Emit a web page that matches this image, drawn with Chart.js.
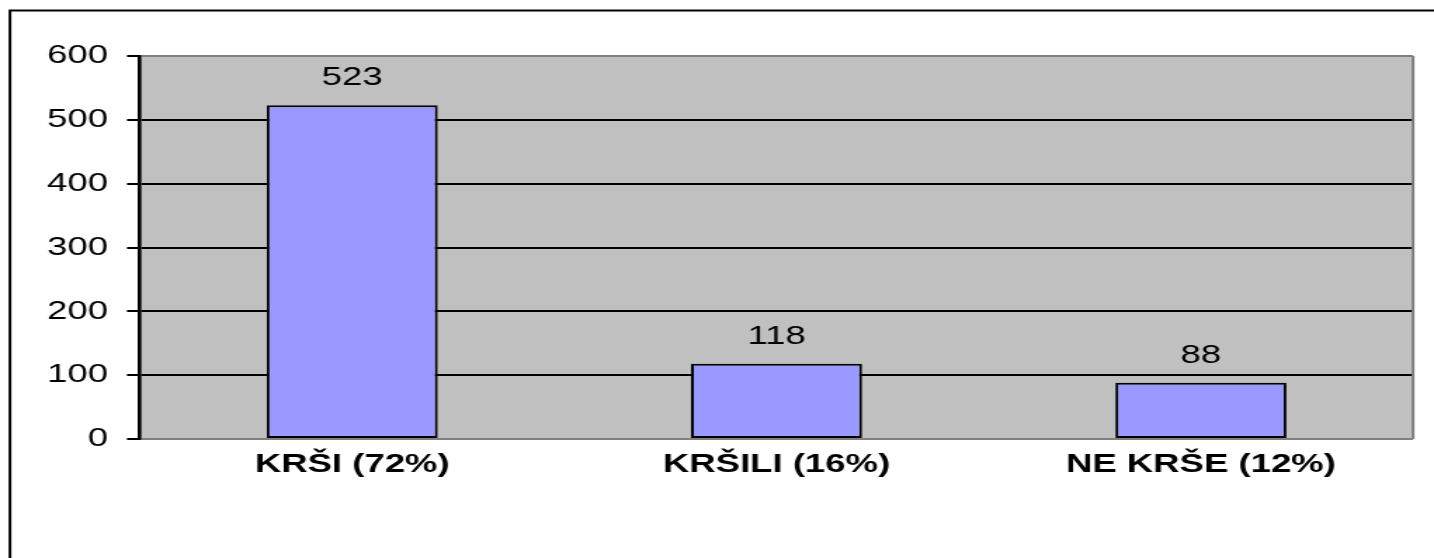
<!DOCTYPE html>
<html><head><meta charset="utf-8">
<script src="https://cdn.jsdelivr.net/npm/chart.js@4/dist/chart.umd.min.js"></script>
<style>
html,body{margin:0;padding:0;background:#fff;overflow:hidden;width:1434px;height:558px;}
#wrap{position:absolute;left:0;top:0;width:1021px;height:558px;transform:scaleX(1.4045);transform-origin:0 0;}
</style></head><body>
<div id="wrap"><canvas id="c"></canvas></div>
<script>
const categories = ['KRŠI (72%)', 'KRŠILI (16%)', 'NE KRŠE (12%)'];
const counts = [523, 118, 88];
const yTicks = [0, 100, 200, 300, 400, 500, 600];

const FONT = '"Liberation Sans", Arial, sans-serif';

const framePlugin = {
  id: 'frame',
  beforeDraw(chart) {
    const ctx = chart.ctx, a = chart.chartArea;
    ctx.save();
    ctx.fillStyle = '#c0c0c0';
    ctx.fillRect(a.left, a.top, a.right - a.left, a.bottom - a.top);
    ctx.strokeStyle = '#000';
    ctx.lineWidth = 2;
    ctx.strokeRect(7.1, 10.5, 3000, 3000);
    ctx.restore();
  },
  beforeDatasetsDraw(chart) {
    const ctx = chart.ctx, a = chart.chartArea;
    ctx.save();
    ctx.strokeStyle = '#808080';
    ctx.lineWidth = 2;
    ctx.beginPath();
    ctx.moveTo(a.right, a.top);
    ctx.lineTo(a.right, a.bottom);
    ctx.stroke();
    ctx.restore();
  },
  afterDatasetsDraw(chart) {
    const ctx = chart.ctx;
    const meta = chart.getDatasetMeta(0);
    ctx.save();
    ctx.font = '26px ' + FONT;
    ctx.fillStyle = '#000';
    ctx.textAlign = 'center';
    ctx.textBaseline = 'alphabetic';
    meta.data.forEach((el, i) => {
      ctx.fillText(String(counts[i]), el.x, el.y - 20);
    });
    ctx.restore();
  }
};

new Chart(document.getElementById('c'), {
  type: 'bar',
  data: {
    labels: categories,
    datasets: [{
      data: counts,
      backgroundColor: '#9999ff',
      borderColor: '#000',
      borderWidth: 2,
      borderSkipped: false,
      barPercentage: 0.403,
      categoryPercentage: 1
    }]
  },
  options: {
    responsive: true,
    maintainAspectRatio: false,
    animation: false,
    layout: { padding: { left: 0, top: 56, right: 14.9, bottom: 0 } },
    plugins: { legend: { display: false }, tooltip: { enabled: false } },
    scales: {
      x: {
        grid: { display: false, drawTicks: false },
        border: { display: false },
        ticks: { color: '#000', font: { family: FONT, size: 26, weight: 'bold' }, padding: 10.7, maxRotation: 0 },
        afterFit(s) { s.height = 119; }
      },
      y: {
        min: 0, max: 600,
        afterBuildTicks(s) { s.ticks = yTicks.map(v => ({ value: v })); },
        grid: {
          color: (c) => (c.tick && (c.tick.value === 0 || c.tick.value === 600)) ? '#808080' : '#000',
          tickColor: '#000',
          lineWidth: 2,
          tickLength: 9.3
        },
        border: { display: true, color: '#000', width: 2.6 },
        ticks: { color: '#000', font: { family: FONT, size: 26 }, padding: 13.5 },
        afterFit(s) { s.width = 99.7; }
      }
    }
  },
  plugins: [framePlugin]
});
</script>
</body></html>
